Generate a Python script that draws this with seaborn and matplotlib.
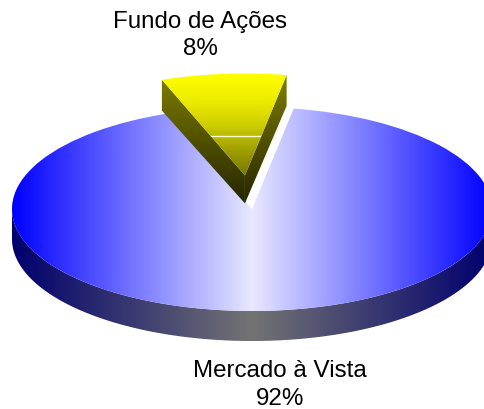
import matplotlib

matplotlib.use("Agg")
import matplotlib.pyplot as plt
import numpy as np
import seaborn as sns
from matplotlib.patches import Polygon

categories = ["Fundo de Ações", "Mercado à Vista"]
shares = [8.4, 91.6]  # the labels round these to 8% and 92%
explode = [0.33, 0.0]

W, H = 485, 410
RX, RY = 240, 102  # ellipse radii in pixels
CX, CY = 252, 210  # pie centre in pixels
DEPTH = 30 / RY

sns.set_theme(style="white")
plt.rcParams["font.family"] = ["Liberation Sans", "DejaVu Sans"]

fig = plt.figure(figsize=(W / 100, H / 100), dpi=100)
ax = fig.add_axes([0, 0, 1, 1])

wedges, _ = ax.pie(
    shares,
    explode=explode,
    startangle=80,
    wedgeprops=dict(facecolor="none", edgecolor="none"),
)
yellow, blue = wedges


def arc(wedge, t1, t2, n=200):
    t = np.radians(np.linspace(t1, t2, n))
    x0, y0 = wedge.center
    return np.column_stack([x0 + wedge.r * np.cos(t), y0 + wedge.r * np.sin(t)])


def gradient(clip, colors, extent, horizontal=True, zorder=2):
    cmap = sns.blend_palette(colors, n_colors=256, as_cmap=True)
    ramp = np.linspace(0, 1, 256)
    ramp = ramp[None, :] if horizontal else ramp[:, None]
    im = ax.imshow(ramp, cmap=cmap, extent=extent, aspect="auto", origin="upper",
                   interpolation="bilinear", zorder=zorder)
    im.set_clip_path(clip)
    return im


# front rim of the big slice
top_rim = arc(blue, 180, 360)
low_rim = top_rim[::-1] - [0, DEPTH]
rim = Polygon(np.vstack([top_rim, low_rim]), closed=True, facecolor="none", edgecolor="none")
ax.add_patch(rim)
gradient(rim, ["#00006e", "#747474", "#00006e"], (-1, 1, -1 - DEPTH, 1), zorder=2)

# top of the big slice
gradient(blue, ["#0000ff", "#e8e8ff", "#0000ff"], (-1, 1, -1, 1), zorder=3)

# cut faces of the small slice
x0, y0 = yellow.center
apex = np.array([[x0, y0]])
for t in (yellow.theta1, yellow.theta2):
    corner = arc(yellow, t, t, 1)
    face = np.vstack([corner, apex, apex - [0, DEPTH * 0.93], corner - [0, DEPTH * 1.03]])
    poly = Polygon(face, closed=True, facecolor="none", edgecolor="none")
    ax.add_patch(poly)
    gradient(poly, ["#7f7f00", "#242400"], (x0 - 1, x0 + 1, y0 - DEPTH, y0 + 1),
             horizontal=False, zorder=4)

# top of the small slice
gradient(yellow, ["#ffff00", "#eeee00", "#d0d000", "#a0a000", "#787800"],
         (x0 - 1, x0 + 1, y0, y0 + 1), horizontal=False, zorder=5)
seam = ax.axhline((CY - 137) / RY, color="#ffffd0", lw=1, zorder=6)
seam.set_clip_path(yellow)

ax.set_aspect("auto")
ax.set_xlim(-CX / RX, (W - CX) / RX)
ax.set_ylim(-(H - CY) / RY, CY / RY)
ax.axis("off")

# labels, placed in pixels from the top left
label_pos = [(200, 35.5), (280, 385)]
for name, share, (px, py) in zip(categories, shares, label_pos):
    fig.text(px / W, 1 - py / H, f"{name}\n{share:.0f}%", ha="center", va="center",
             fontsize=17.4, color="black", linespacing=1.3)

fig.savefig("out.png", dpi=100)
